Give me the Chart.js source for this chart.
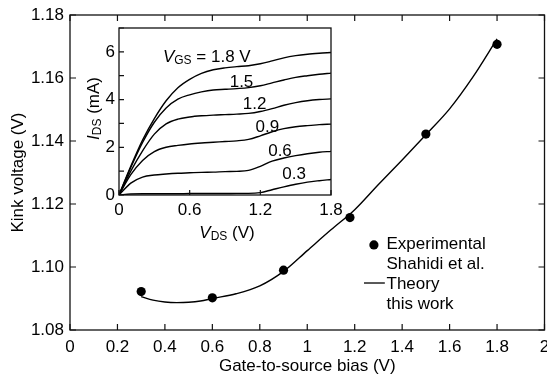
<!DOCTYPE html>
<html><head><meta charset="utf-8">
<script src="https://cdn.jsdelivr.net/npm/chart.js@4"></script>
<style>
html,body{margin:0;padding:0;background:#fff;}
#wrap{position:relative;width:547px;height:383px;background:#fff;overflow:hidden;}
#main{position:absolute;left:0;top:0;}
#inset{position:absolute;left:76px;top:20px;}
</style></head><body>
<div id="wrap">
<canvas id="main" width="547" height="383"></canvas>
<canvas id="inset" width="270" height="225"></canvas>
</div>
<script>
// ---------- Main chart data ----------
const gateBias = [0.3, 0.6, 0.9, 1.18, 1.5, 1.8];
const kinkExperimental = [1.0922, 1.0902, 1.0990, 1.1157, 1.1422, 1.1707];
const theoryBias = [0.3, 0.35, 0.4, 0.45, 0.5, 0.55, 0.6, 0.7, 0.8, 0.9, 1.0, 1.1, 1.2, 1.3, 1.4, 1.5, 1.6, 1.7, 1.8];
const kinkTheory = [1.0906, 1.0895, 1.0889, 1.0887, 1.0888, 1.0892, 1.0900, 1.0915, 1.0940, 1.0986, 1.1052, 1.1118, 1.1182, 1.1262, 1.1340, 1.1420, 1.1502, 1.1605, 1.1724];
const mainXTicks = [0, 0.2, 0.4, 0.6, 0.8, 1, 1.2, 1.4, 1.6, 1.8, 2];
const mainXTickLabels = ['0', '0.2', '0.4', '0.6', '0.8', '1', '1.2', '1.4', '1.6', '1.8', '2'];
const mainYTicks = [1.08, 1.10, 1.12, 1.14, 1.16, 1.18];
const mainYTickLabels = ['1.08', '1.10', '1.12', '1.14', '1.16', '1.18'];
const legendLabels = ['Experimental', 'Shahidi et al.', 'Theory', 'this work'];

// ---------- Inset data ----------
const vds = [0, 0.1, 0.2, 0.3, 0.4, 0.5, 0.6, 0.7, 0.8, 0.9, 1.0, 1.1, 1.2, 1.3, 1.4, 1.5, 1.6, 1.7, 1.8];
const vgsLabels = ['1.8', '1.5', '1.2', '0.9', '0.6', '0.3'];
const ids18 = [0, 1.2, 2.3, 3.2, 3.95, 4.5, 4.85, 5.1, 5.25, 5.33, 5.38, 5.42, 5.5, 5.62, 5.75, 5.84, 5.9, 5.94, 5.97];
const ids15 = [0, 1.15, 2.2, 3.05, 3.65, 4.02, 4.2, 4.32, 4.4, 4.43, 4.46, 4.5, 4.58, 4.7, 4.82, 4.93, 5.0, 5.06, 5.11];
const ids12 = [0, 1.0, 1.85, 2.55, 2.98, 3.18, 3.27, 3.32, 3.35, 3.37, 3.39, 3.42, 3.5, 3.62, 3.76, 3.87, 3.95, 4.0, 4.03];
const ids09 = [0, 0.85, 1.45, 1.82, 2.0, 2.08, 2.14, 2.18, 2.21, 2.24, 2.27, 2.33, 2.48, 2.65, 2.78, 2.86, 2.91, 2.95, 2.97];
const ids06 = [0, 0.5, 0.75, 0.84, 0.88, 0.91, 0.93, 0.95, 0.96, 0.98, 0.99, 1.03, 1.2, 1.42, 1.55, 1.65, 1.73, 1.79, 1.83];
const ids03 = [0, 0.04, 0.05, 0.05, 0.05, 0.05, 0.06, 0.06, 0.06, 0.06, 0.07, 0.07, 0.1, 0.22, 0.34, 0.45, 0.54, 0.6, 0.65];
const idsSeries = [ids18, ids15, ids12, ids09, ids06, ids03];
// label anchor positions (data units) for each V_GS curve label
const vgsLabelX = [0.373, 1.04, 1.152, 1.26, 1.367, 1.486];
const vgsLabelY = [5.77, 4.73, 3.79, 2.82, 1.83, 0.86];
const insetXTicks = [0, 0.6, 1.2, 1.8];
const insetXTickLabels = ['0', '0.6', '1.2', '1.8'];
const insetYTicks = [0, 1, 2, 3, 4, 5, 6, 7];
const insetYTickLabels = ['0', '', '2', '', '4', '', '6', ''];

const FONT = "'Liberation Sans', Arial, Helvetica, sans-serif";
Chart.defaults.font.family = FONT;
Chart.defaults.font.size = 17;
Chart.defaults.color = '#000';

// inward tick marks, frame and tick labels drawn from the chart's own scales
const axisDecor = {
  id: 'axisDecor',
  afterDraw(chart, args, o) {
    const {ctx, chartArea: a, scales: {x, y}} = chart;
    ctx.save();
    ctx.strokeStyle = '#111';
    ctx.lineWidth = 1.2;
    ctx.beginPath();
    x.ticks.forEach(t => {
      const p = x.getPixelForValue(t.value);
      ctx.moveTo(p, a.bottom); ctx.lineTo(p, a.bottom - o.len);
      if (o.mirror) { ctx.moveTo(p, a.top); ctx.lineTo(p, a.top + o.len); }
    });
    y.ticks.forEach(t => {
      const p = y.getPixelForValue(t.value);
      ctx.moveTo(a.left, p); ctx.lineTo(a.left + o.len, p);
      if (o.mirror) { ctx.moveTo(a.right, p); ctx.lineTo(a.right - o.len, p); }
    });
    ctx.stroke();
    ctx.lineWidth = 1.3;
    ctx.strokeRect(a.left, a.top, a.right - a.left, a.bottom - a.top);
    ctx.fillStyle = '#000';
    ctx.font = o.fontSize + 'px ' + FONT;
    ctx.textAlign = 'center';
    ctx.textBaseline = 'alphabetic';
    x.ticks.forEach((t, i) => ctx.fillText(o.xLabels[i], x.getPixelForValue(t.value), a.bottom + o.xBase));
    ctx.textAlign = 'right';
    ctx.textBaseline = 'middle';
    y.ticks.forEach((t, i) => ctx.fillText(o.yLabels[i], a.left - o.yPad, y.getPixelForValue(t.value)));
    ctx.restore();
  }
};

function drawRich(ctx, parts, x, y, size, align) {
  const subSize = Math.round(size * 0.68);
  const fontFor = p => (p.italic ? 'italic ' : '') + (p.sub ? subSize : size) + 'px ' + FONT;
  let total = 0;
  parts.forEach(p => { ctx.font = fontFor(p); total += ctx.measureText(p.t).width; });
  let cx = align === 'center' ? x - total / 2 : x;
  ctx.textBaseline = 'middle';
  ctx.textAlign = 'left';
  parts.forEach(p => {
    ctx.font = fontFor(p);
    ctx.fillText(p.t, cx, p.sub ? y + size * 0.22 : y);
    cx += ctx.measureText(p.t).width;
  });
}

const mainLegend = {
  id: 'mainLegend',
  afterDraw(chart) {
    const {ctx, scales: {x, y}} = chart;
    ctx.save();
    ctx.fillStyle = '#000';
    const mx = x.getPixelForValue(1.281), my = y.getPixelForValue(1.107);
    ctx.beginPath(); ctx.arc(mx, my, 4.6, 0, Math.PI * 2); ctx.fill();
    const tx = x.getPixelForValue(1.334);
    const y0 = y.getPixelForValue(1.1073);
    ctx.font = '17px ' + FONT;
    ctx.textBaseline = 'middle';
    ctx.textAlign = 'left';
    legendLabels.forEach((s, i) => ctx.fillText(s, tx, y0 + i * 20));
    const ly = y0 + 2 * 20 - 1;
    ctx.strokeStyle = '#000'; ctx.lineWidth = 1.3;
    ctx.beginPath(); ctx.moveTo(x.getPixelForValue(1.239), ly); ctx.lineTo(x.getPixelForValue(1.327), ly); ctx.stroke();
    ctx.restore();
  }
};

new Chart(document.getElementById('main'), {
  type: 'scatter',
  data: {
    datasets: [
      {
        label: 'Theory',
        data: theoryBias.map((v, i) => ({x: v, y: kinkTheory[i]})),
        showLine: true, borderColor: '#000', borderWidth: 1.4, pointRadius: 0,
        cubicInterpolationMode: 'monotone'
      },
      {
        label: 'Experimental',
        data: gateBias.map((v, i) => ({x: v, y: kinkExperimental[i]})),
        showLine: false, pointRadius: 4.6, pointBackgroundColor: '#000', pointBorderColor: '#000', pointBorderWidth: 0
      }
    ]
  },
  options: {
    responsive: false, animation: false, maintainAspectRatio: false,
    layout: {padding: {left: 0, right: 2.5, top: 15, bottom: 0}, autoPadding: false},
    plugins: {
      legend: {display: false}, tooltip: {enabled: false},
      axisDecor: {len: 6, mirror: true, fontSize: 17, xLabels: mainXTickLabels, yLabels: mainYTickLabels, xBase: 21.5, yPad: 6}
    },
    scales: {
      x: {
        type: 'linear', min: 0, max: 2,
        afterBuildTicks: s => { s.ticks = mainXTicks.map(v => ({value: v})); },
        afterFit: s => { s.height = 53; },
        grid: {display: false, drawTicks: false},
        border: {display: false},
        ticks: {display: false},
        title: {display: true, text: 'Gate-to-source bias (V)', font: {size: 17}, padding: {top: 0, bottom: 6}}
      },
      y: {
        type: 'linear', min: 1.08, max: 1.18,
        afterBuildTicks: s => { s.ticks = mainYTicks.map(v => ({value: v})); },
        afterFit: s => { s.width = 70; },
        grid: {display: false, drawTicks: false},
        border: {display: false},
        ticks: {display: false},
        title: {display: true, text: 'Kink voltage (V)', font: {size: 17}, padding: {top: 8, bottom: 0}}
      }
    }
  },
  plugins: [axisDecor, mainLegend]
});

const insetText = {
  id: 'insetText',
  afterDraw(chart) {
    const {ctx, chartArea: a, scales: {x, y}} = chart;
    ctx.save();
    ctx.fillStyle = '#000';
    ctx.translate(18, (a.top + a.bottom) / 2 - 3);
    ctx.rotate(-Math.PI / 2);
    drawRich(ctx, [{t: 'I', italic: true}, {t: 'DS', sub: true}, {t: ' (mA)'}], 0, 0, 17, 'center');
    ctx.restore();
    ctx.save();
    ctx.fillStyle = '#000';
    drawRich(ctx, [{t: 'V', italic: true}, {t: 'DS', sub: true}, {t: ' (V)'}], (a.left + a.right) / 2 + 2, 213, 17, 'center');
    vgsLabels.forEach((s, i) => {
      const px = x.getPixelForValue(vgsLabelX[i]);
      const py = y.getPixelForValue(vgsLabelY[i]);
      if (i === 0) {
        drawRich(ctx, [{t: 'V', italic: true}, {t: 'GS', sub: true}, {t: ' = ' + s + ' V'}], px, py, 17, 'left');
      } else {
        drawRich(ctx, [{t: s}], px, py, 17, 'center');
      }
    });
    ctx.restore();
  }
};

new Chart(document.getElementById('inset'), {
  type: 'scatter',
  data: {
    datasets: idsSeries.map((arr, k) => ({
      label: 'VGS ' + vgsLabels[k],
      data: vds.map((v, i) => ({x: v, y: arr[i]})),
      showLine: true, borderColor: '#000', borderWidth: 1.4, pointRadius: 0,
      cubicInterpolationMode: 'monotone'
    }))
  },
  options: {
    responsive: false, animation: false, maintainAspectRatio: false,
    layout: {padding: {left: 0, right: 15, top: 8, bottom: 0}, autoPadding: false},
    plugins: {
      legend: {display: false}, tooltip: {enabled: false},
      axisDecor: {len: 5, mirror: false, fontSize: 17, xLabels: insetXTickLabels, yLabels: insetYTickLabels, xBase: 19.5, yPad: 4}
    },
    scales: {
      x: {
        type: 'linear', min: 0, max: 1.8,
        afterBuildTicks: s => { s.ticks = insetXTicks.map(v => ({value: v})); },
        afterFit: s => { s.height = 50; },
        grid: {display: false, drawTicks: false},
        border: {display: false},
        ticks: {display: false}
      },
      y: {
        type: 'linear', min: 0, max: 7,
        afterBuildTicks: s => { s.ticks = insetYTicks.map(v => ({value: v})); },
        afterFit: s => { s.width = 43; },
        grid: {display: false, drawTicks: false},
        border: {display: false},
        ticks: {display: false}
      }
    }
  },
  plugins: [axisDecor, insetText]
});
</script>
</body></html>
